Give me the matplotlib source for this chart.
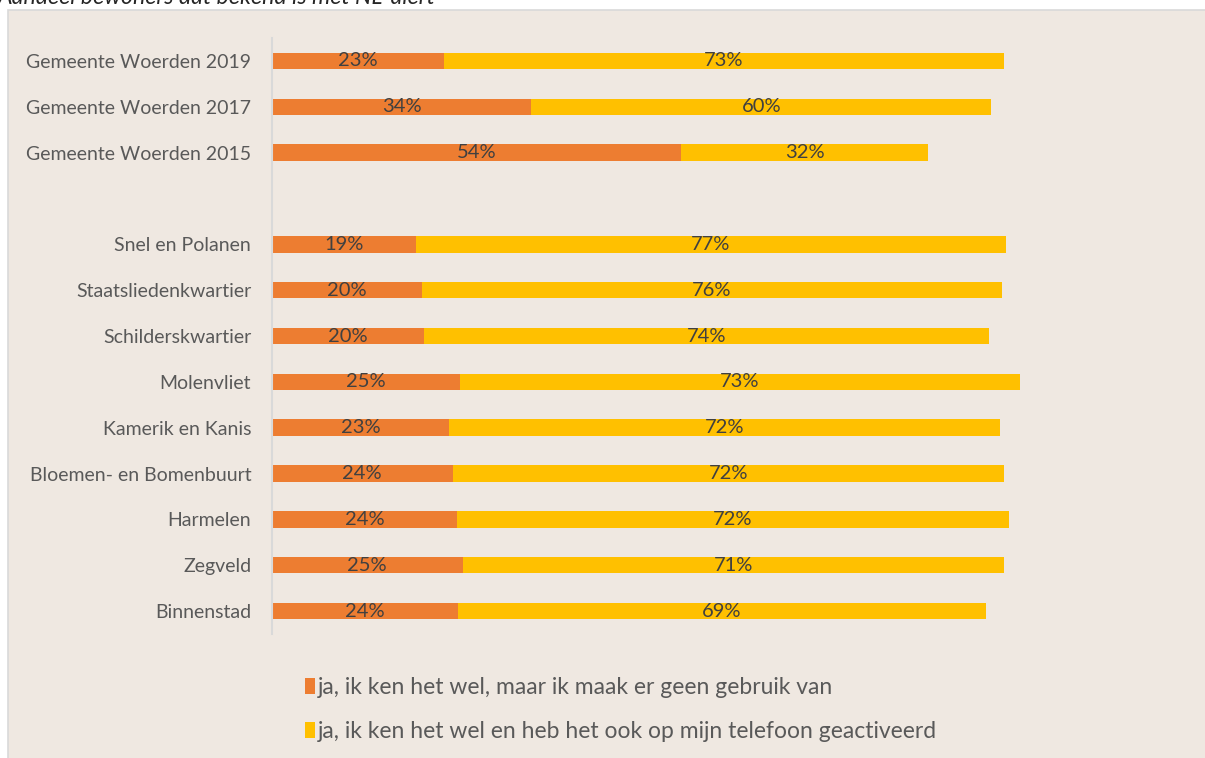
import matplotlib
matplotlib.use("Agg")
import matplotlib.pyplot as plt
from matplotlib.patches import Rectangle

plt.rcParams["font.family"] = ["Lato", "DejaVu Sans"]

# data (percentages; labels show rounded values)
categories = ["Gemeente Woerden 2019", "Gemeente Woerden 2017", "Gemeente Woerden 2015",
              "Snel en Polanen", "Staatsliedenkwartier", "Schilderskwartier", "Molenvliet",
              "Kamerik en Kanis", "Bloemen- en Bomenbuurt", "Harmelen", "Zegveld", "Binnenstad"]
niet_gebruikt = [22.6, 34.0, 53.7, 18.9, 19.7, 19.9, 24.7, 23.2, 23.7, 24.3, 25.0, 24.4]
geactiveerd = [73.4, 60.4, 32.4, 77.4, 76.1, 74.2, 73.4, 72.4, 72.4, 72.4, 71.1, 69.3]
series_names = ["ja, ik ken het wel, maar ik maak er geen gebruik van",
                "ja, ik ken het wel en heb het ook op mijn telefoon geactiveerd"]
title = "Aandeel bewoners dat bekend is met NL-alert"

bg = "#EFE8E1"
orange = "#ED7D31"
yellow = "#FFC000"
txt = "#595959"

W, H = 1205, 758
fig = plt.figure(figsize=(W / 100, H / 100), dpi=100)
fig.patch.set_facecolor("white")

# chart area box
fig.patches.append(Rectangle((8 / W, -0.05), 1.1, 1 - 10 / H + 0.05, transform=fig.transFigure,
                             facecolor=bg, edgecolor="#D9D9D9", linewidth=1.2, zorder=-5))

# title, cut off at the top of the picture
fig.text(-2 / W, 1 - 4 / H, title, fontsize=16.7, style="italic", color="#262626",
         ha="left", va="baseline")

ax = fig.add_axes([272 / W, 1 - 634 / H, 762 / W, 596 / H])
ax.set_facecolor("none")

# one empty slot between the municipality rows and the districts
pos = [0, 1, 2] + list(range(4, 13))
b1 = ax.barh(pos, niet_gebruikt, height=0.36, color=orange, label=series_names[0])
b2 = ax.barh(pos, geactiveerd, left=niet_gebruikt, height=0.36, color=yellow, label=series_names[1])

for p, a, b in zip(pos, niet_gebruikt, geactiveerd):
    ax.text(a / 2, p, "%d%%" % round(a), ha="center", va="center", fontsize=14.5, color="#404040")
    ax.text(a + b / 2, p, "%d%%" % round(b), ha="center", va="center", fontsize=14.5, color="#404040")

ax.set_xlim(0, 100)
ax.set_ylim(12.5, -0.5)
ax.set_yticks(pos)
ax.set_yticklabels(categories, fontsize=14, color=txt)
ax.set_xticks([])
ax.tick_params(axis="y", length=0, pad=15)
for s in ["top", "right", "bottom"]:
    ax.spines[s].set_visible(False)
ax.spines["left"].set_color("#D9D9D9")
ax.spines["left"].set_linewidth(1.5)

leg = fig.legend(handles=[b1, b2], loc="upper left", bbox_to_anchor=(305 / W, 1 - 677 / H),
                 frameon=False, fontsize=16.5, labelcolor=txt, handlelength=0.45,
                 handleheight=0.75, handletextpad=0.1, labelspacing=1.0, borderpad=0,
                 borderaxespad=0)

fig.savefig("out.png", dpi=100, facecolor=fig.get_facecolor())
